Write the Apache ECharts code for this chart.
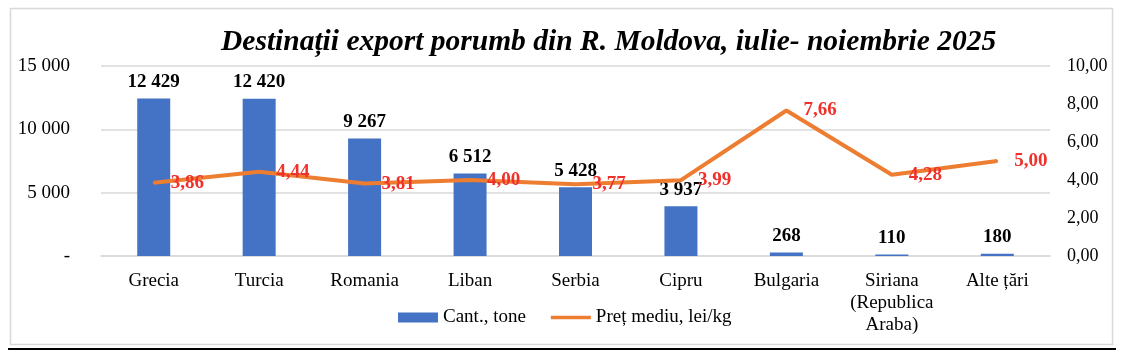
<!DOCTYPE html>
<html><head><meta charset="utf-8">
<script src="https://cdn.jsdelivr.net/npm/echarts@6/dist/echarts.min.js"></script>
<style>html,body{margin:0;padding:0;background:#fff}#c{width:1130px;height:358px}</style>
</head><body><div id="c"></div>
<script>
const categories = ['Grecia','Turcia','Romania','Liban','Serbia','Cipru','Bulgaria','Siriana\n(Republica\nAraba)','Alte țări'];
const quantity = [12429,12420,9267,6512,5428,3937,268,110,180];
const price = [3.86,4.44,3.81,4.00,3.77,3.99,7.66,4.28,5.00];
const F = '"Liberation Serif","Times New Roman",serif';
const chart = echarts.init(document.getElementById('c'));
const fmtQ = v => v === 0 ? '-' : String(v).replace(/\B(?=(\d{3})+(?!\d))/g, ' ');
const fmtP = v => v.toFixed(2).replace('.', ',');
chart.setOption({
  backgroundColor: '#fff',
  animation: false,
  title: { text: 'Destinații export porumb din R. Moldova, iulie- noiembrie 2025', left: 216, top: 22,
    textStyle: { fontFamily: F, fontSize: 29.5, fontWeight: 'bold', fontStyle: 'italic', color: '#000' } },
  graphic: [
    { type: 'rect', shape: { x: 10.5, y: 8.5, width: 1102, height: 336 }, style: { fill: 'none', stroke: '#D9D9D9', lineWidth: 1.5 }, z: -1 },
    { type: 'line', shape: { x1: 8, y1: 349, x2: 1116, y2: 349 }, style: { stroke: '#000', lineWidth: 2 } }
  ],
  legend: { top: 303, left: 393, itemGap: 25, itemWidth: 40, itemHeight: 10,
    textStyle: { fontFamily: F, fontSize: 19, color: '#000' },
    data: [ { name: 'Cant., tone', icon: 'rect' },
            { name: 'Preț mediu, lei/kg', icon: 'path://M0,0H43V3.5H0Z', itemStyle: { color: '#ED7D31', opacity: 1 } } ] },
  grid: { left: 101, right: 80, top: 66, bottom: 102 },
  xAxis: { type: 'category', data: categories,
    axisLine: { lineStyle: { color: '#D9D9D9', width: 1.5 } }, axisTick: { show: false },
    axisLabel: { fontFamily: F, fontSize: 19, color: '#000', margin: 14, lineHeight: 22, interval: 0 } },
  yAxis: [
    { type: 'value', min: 0, max: 15000, interval: 5000,
      axisLabel: { fontFamily: F, fontSize: 19, color: '#000', formatter: fmtQ, margin: 31 },
      splitLine: { lineStyle: { color: '#D9D9D9', width: 1.5 } }, axisLine: { show: false }, axisTick: { show: false } },
    { type: 'value', min: 0, max: 10, interval: 2, position: 'right',
      axisLabel: { fontFamily: F, fontSize: 18, color: '#000', formatter: fmtP, margin: 17 },
      splitLine: { show: false }, axisLine: { show: false }, axisTick: { show: false } }
  ],
  series: [
    { name: 'Cant., tone', type: 'bar', data: quantity, barWidth: 33, yAxisIndex: 0,
      itemStyle: { color: '#4472C4' },
      label: { show: true, position: 'top', distance: 7, formatter: p => fmtQ(p.value),
        fontFamily: F, fontSize: 19, fontWeight: 'bold', color: '#000' } },
    { name: 'Preț mediu, lei/kg', type: 'line', data: price, yAxisIndex: 1,
      symbol: 'circle', symbolSize: 2, showSymbol: true,
      lineStyle: { color: '#ED7D31', width: 4 }, itemStyle: { color: '#ED7D31' }, z: 3,
      labelLayout: { hideOverlap: false },
      label: { show: true, position: 'right', distance: 16, offset: [0, 2], formatter: p => fmtP(p.value),
        fontFamily: F, fontSize: 19, fontWeight: 'bold', color: '#F0302A' } }
  ]
});
</script></body></html>
